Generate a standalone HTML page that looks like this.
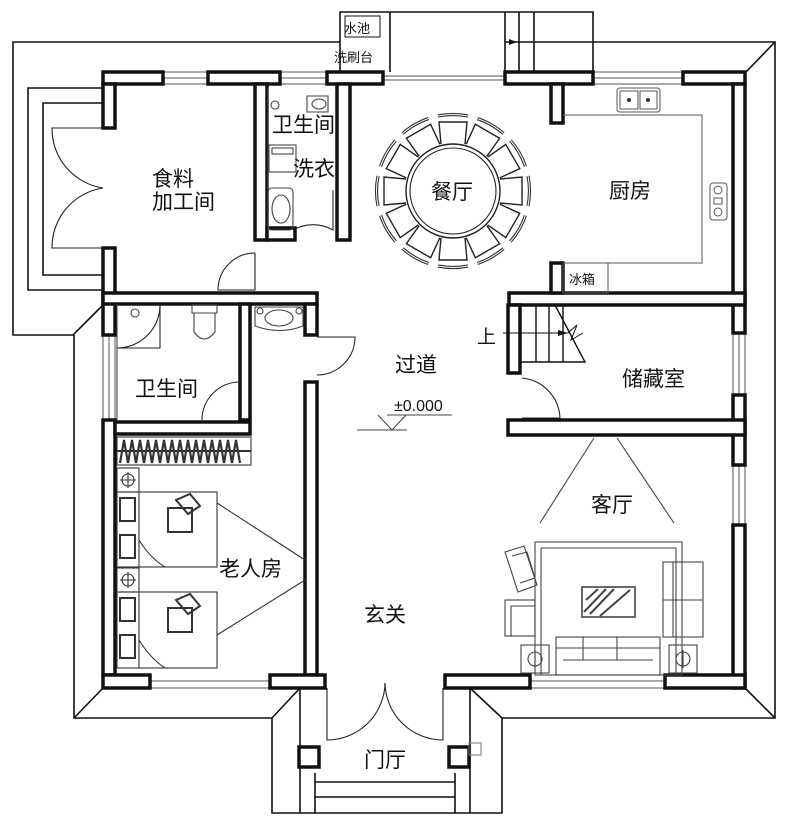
<!DOCTYPE html>
<html><head><meta charset="utf-8"><style>
html,body{margin:0;padding:0;background:#fff;}
svg{display:block;}
text{font-family:"Liberation Sans","Noto Sans CJK SC",sans-serif;fill:#111;}
</style></head><body>
<svg width="789" height="824" viewBox="0 0 789 824" xmlns="http://www.w3.org/2000/svg">
<defs>
<g id="chair">
  <path d="M-12,-47 L-14,-69 L14,-69 L12,-47" fill="#fff" stroke="#222" stroke-width="1.4"/>
  <path d="M-15,-75 Q0,-78 15,-75" fill="none" stroke="#333" stroke-width="3.2"/>
  <path d="M-15,-75 Q0,-78 15,-75" fill="none" stroke="#fff" stroke-width="1"/>
</g>
</defs>
<g fill="none" stroke="#111" stroke-width="1.6">
  <path d="M340,42 H13 V335 H73 L103,305"/>
  <path d="M103,88 H28 V290 H103"/>
  <path d="M103,103 H43 V275 H103"/>
  <path d="M74,335 V718 H272 V813 H502 V718 H775 V42 H593"/>
  <path d="M74,718 L103,688 M272,718 L300,688 M502,718 L470,688 M775,718 L745,688 M775,42 L746,72"/>
  <path d="M300,688 V813 M470,688 V813 M315,773 V813 M455,773 V813 M315,782 H455 M315,797 H455"/>
  <path d="M340,72 V12 H593 V72 M390,12 V72 M505,12 V72 M519,12 V72 M534,12 V72 M505,42 H593"/>
  <rect x="345" y="16" width="35" height="21" stroke-width="1"/>
  <path d="M505,42 L517,42" stroke-width="1"/>
</g>
<path d="M509,39 L517,42 L509,45 Z" fill="#111"/>
<text x="344" y="33" font-size="13">水池</text>
<text x="334" y="62" font-size="13">洗刷台</text>

<g fill="none" stroke="#555" stroke-width="1">
  <path d="M163,72 H208 M163,78 H208 M163,84 H208"/>
  <path d="M280,72 H327 M280,78 H327 M280,84 H327"/>
  <path d="M383,76 H505 M383,80 H505"/>
  <path d="M593,72 H683 M593,78 H683 M593,84 H683"/>
  <path d="M733,333 V395 M739,333 V395 M745,333 V395"/>
  <path d="M733,465 V525 M739,465 V525 M745,465 V525"/>
  <path d="M103,335 V420 M109,335 V420 M115,335 V420"/>
  <path d="M150,675 V688 M150,681 H270 M150,688 H270 M270,675 V688"/>
  <path d="M530,681 H665 M530,688 H665"/>
</g>

<g fill="#fff" stroke="#111" stroke-width="3.5">
  <rect x="103" y="72" width="60" height="12"/>
  <rect x="208" y="72" width="72" height="12"/>
  <rect x="327" y="72" width="56" height="12"/>
  <rect x="505" y="72" width="88" height="12"/>
  <rect x="551" y="84" width="12" height="39"/>
  <rect x="683" y="72" width="62" height="12"/>
  <rect x="733" y="84" width="12" height="249"/>
  <rect x="733" y="395" width="12" height="70"/>
  <rect x="733" y="525" width="12" height="163"/>
  <rect x="103" y="84" width="12" height="44"/>
  <rect x="103" y="248" width="12" height="87"/>
  <rect x="103" y="420" width="12" height="255"/>
  <rect x="255" y="84" width="12" height="156"/>
  <rect x="267" y="228" width="28" height="12"/>
  <rect x="337" y="84" width="13" height="156"/>
  <rect x="103" y="293" width="214" height="11"/>
  <rect x="305" y="304" width="12" height="31"/>
  <rect x="240" y="304" width="10" height="116"/>
  <rect x="115" y="422" width="135" height="12"/>
  <rect x="305" y="382" width="12" height="293"/>
  <rect x="509" y="293" width="236" height="12"/>
  <rect x="551" y="263" width="12" height="30"/>
  <rect x="508" y="305" width="12" height="68"/>
  <rect x="508" y="420" width="237" height="15"/>
  <rect x="103" y="675" width="47" height="13"/>
  <rect x="270" y="675" width="55" height="13"/>
  <rect x="445" y="675" width="85" height="13"/>
  <rect x="665" y="675" width="80" height="13"/>
  <rect x="299" y="747" width="20" height="20"/>
  <rect x="449" y="747" width="20" height="20"/>
</g>
<rect x="469" y="743" width="12" height="12" fill="none" stroke="#777" stroke-width="1"/>

<g fill="none" stroke="#222" stroke-width="1.1">
  <path d="M103,128 H52 A60,60 0 0 0 103,188 A60,60 0 0 0 52,248 H103"/>
  <path d="M255,253 V290 H218 A37,37 0 0 1 255,253"/>
  <path d="M333,190 V230 A40,40 0 0 0 293,230"/>
  <path d="M240,382 A38,38 0 0 0 202,420"/>
  <path d="M160,305 V348 H117 M160,305 A43,43 0 0 1 117,348"/>
  <path d="M317,337 H355 A38,38 0 0 1 317,375"/>
  <path d="M522,378 A42,42 0 0 1 560,418 H522"/>
  <path d="M327,688 V740 A58,58 0 0 0 385,683 M443,688 V740 A58,58 0 0 1 385,683"/>
</g>

<g fill="none" stroke="#111" stroke-width="1.4">
  <path d="M520,305 V362 H585 L555,305 M536,305 V362 M549,305 V362 M563,305 V362"/>
  <path d="M503,333 H568 L577,325 L571,340 L583,333" stroke-width="1"/>
</g>
<path d="M558,330 L568,333 L558,336 Z" fill="#111"/>
<text x="477" y="343" font-size="19">上</text>

<g transform="translate(453,191)">
  <use href="#chair" transform="rotate(0)"/><use href="#chair" transform="rotate(30)"/>
  <use href="#chair" transform="rotate(60)"/><use href="#chair" transform="rotate(90)"/>
  <use href="#chair" transform="rotate(120)"/><use href="#chair" transform="rotate(150)"/>
  <use href="#chair" transform="rotate(180)"/><use href="#chair" transform="rotate(210)"/>
  <use href="#chair" transform="rotate(240)"/><use href="#chair" transform="rotate(270)"/>
  <use href="#chair" transform="rotate(300)"/><use href="#chair" transform="rotate(330)"/>
  <circle r="47" fill="#fff" stroke="#222" stroke-width="1.4"/>
  <circle r="43" fill="none" stroke="#222" stroke-width="1.1"/>
</g>

<g fill="none" stroke="#555" stroke-width="1">
  <path d="M563,115 H702 V263 H563"/>
  <rect x="563" y="263" width="45" height="30"/>
  <rect x="617" y="88" width="43" height="24" rx="3"/>
  <rect x="620" y="91" width="18" height="18"/><rect x="640" y="91" width="17" height="18"/>
  <rect x="710" y="183" width="17" height="37" rx="3"/>
  <circle cx="718" cy="190" r="4"/><circle cx="718" cy="212" r="4"/><rect x="714" y="198" width="8" height="6"/>
</g>
<circle cx="629" cy="100" r="2" fill="#333"/><circle cx="648" cy="100" r="2" fill="#333"/>
<text x="569" y="284" font-size="13" fill="#333">冰箱</text>

<g fill="none" stroke="#444" stroke-width="1.1">
  <path d="M307,96 H328 V112 H307 Z"/><ellipse cx="319" cy="104" rx="7" ry="5"/>
  <circle cx="275" cy="105" r="4"/>
  <rect x="269" y="145" width="27" height="27"/><rect x="272" y="148" width="21" height="6"/>
  <rect x="268" y="188" width="25" height="42" rx="4"/><ellipse cx="281" cy="209" rx="9" ry="14"/>
  <path d="M268,88 V230"/>
  <path d="M192,305 H217 V313 H192 Z M194,313 V332 Q204,346 215,332 V313"/>
  <circle cx="135" cy="313" r="4"/>
  <path d="M255,307 H303 V326 Q280,335 255,326 Z"/><ellipse cx="279" cy="318" rx="14" ry="8"/>
  <circle cx="260" cy="311" r="3"/><circle cx="299" cy="311" r="3"/>
  <path d="M117,304 V420"/>
</g>

<g fill="none" stroke="#333" stroke-width="1.1">
  <rect x="117" y="437" width="134" height="28"/>
  <path d="M117,451 H251" stroke-width="2"/>
  <path d="M120,463 L124,440 L128,463 L132,440 L136,463 L140,440 L144,463 L148,440 L152,463 L156,440 L160,463 L164,440 L168,463 L172,440 L176,463 L180,440 L184,463 L188,440 L192,463 L196,440 L200,463 L204,440 L208,463 L212,440 L216,463 L220,440 L224,463 L228,440 L232,463 L236,440 L240,463" stroke-width="2.2"/>
  <rect x="117" y="468" width="22" height="24"/><circle cx="128" cy="480" r="6"/><path d="M128,472 V488 M120,480 H136"/>
  <rect x="117" y="568" width="22" height="24"/><circle cx="128" cy="580" r="6"/><path d="M128,572 V588 M120,580 H136"/>
  <rect x="117" y="492" width="100" height="75"/><rect x="117" y="592" width="100" height="76"/>
  <path d="M139,492 V567 M139,592 V668"/>
  <rect x="120" y="498" width="15" height="23" stroke-width="2"/><rect x="120" y="535" width="15" height="23" stroke-width="2"/>
  <rect x="120" y="598" width="15" height="23" stroke-width="2"/><rect x="120" y="635" width="15" height="23" stroke-width="2"/>
  <rect x="168" y="508" width="24" height="24" stroke-width="2"/><path d="M176,500 L190,494 L200,506 L188,514 Z" stroke-width="2"/>
  <rect x="168" y="608" width="24" height="24" stroke-width="2"/><path d="M176,600 L190,594 L200,606 L188,614 Z" stroke-width="2"/>
  <path d="M139,540 Q150,558 165,567 M139,640 Q150,658 165,668"/>
  <path d="M217,503 L305,560 M217,635 L305,580"/>
</g>

<g fill="none" stroke="#444" stroke-width="1.1">
  <path d="M594,438 L540,523 M617,438 L674,523"/>
  <rect x="535" y="542" width="147" height="133"/><path d="M541,548 H676 V675 M541,548 V675"/>
  <rect x="663" y="562" width="40" height="75"/><path d="M673,562 V637 M663,600 H703"/>
  <rect x="556" y="637" width="104" height="38"/><path d="M556,648 H660 M563,660 H653 M583,637 V660 M617,637 V660"/>
  <rect x="521" y="645" width="28" height="28"/><circle cx="535" cy="659" r="7"/><path d="M535,650 V668"/>
  <rect x="669" y="645" width="28" height="28"/><circle cx="683" cy="659" r="7"/><path d="M683,650 V668"/>
  <path d="M505,552 L524,546 L537,585 L518,592 Z M512,556 L527,552 L535,578 L520,583"/>
  <rect x="505" y="600" width="30" height="36"/><path d="M511,606 H535 M511,606 V636"/>
  <rect x="582" y="587" width="53" height="30" stroke-width="1.6"/>
  <path d="M584,612 L606,589 M590,614 L614,589 M600,616 L630,590 M586,600 L598,589" stroke-width="2"/>
</g>

<g fill="none" stroke="#444" stroke-width="1">
  <path d="M387,415 H452 M378,415 L392,430 L406,415 M357,430 H407"/>
</g>
<text x="394" y="411" font-size="16" fill="#555">±0.000</text>

<g font-size="21">
  <text x="152" y="186">食料</text>
  <text x="152" y="209">加工间</text>
  <text x="272" y="132">卫生间</text>
  <text x="293" y="176">洗衣</text>
  <text x="431" y="199">餐厅</text>
  <text x="609" y="198">厨房</text>
  <text x="395" y="372">过道</text>
  <text x="622" y="386">储藏室</text>
  <text x="135" y="396">卫生间</text>
  <text x="591" y="512">客厅</text>
  <text x="219" y="576">老人房</text>
  <text x="364" y="622">玄关</text>
  <text x="364" y="767">门厅</text>
</g>
</svg>
</body></html>
